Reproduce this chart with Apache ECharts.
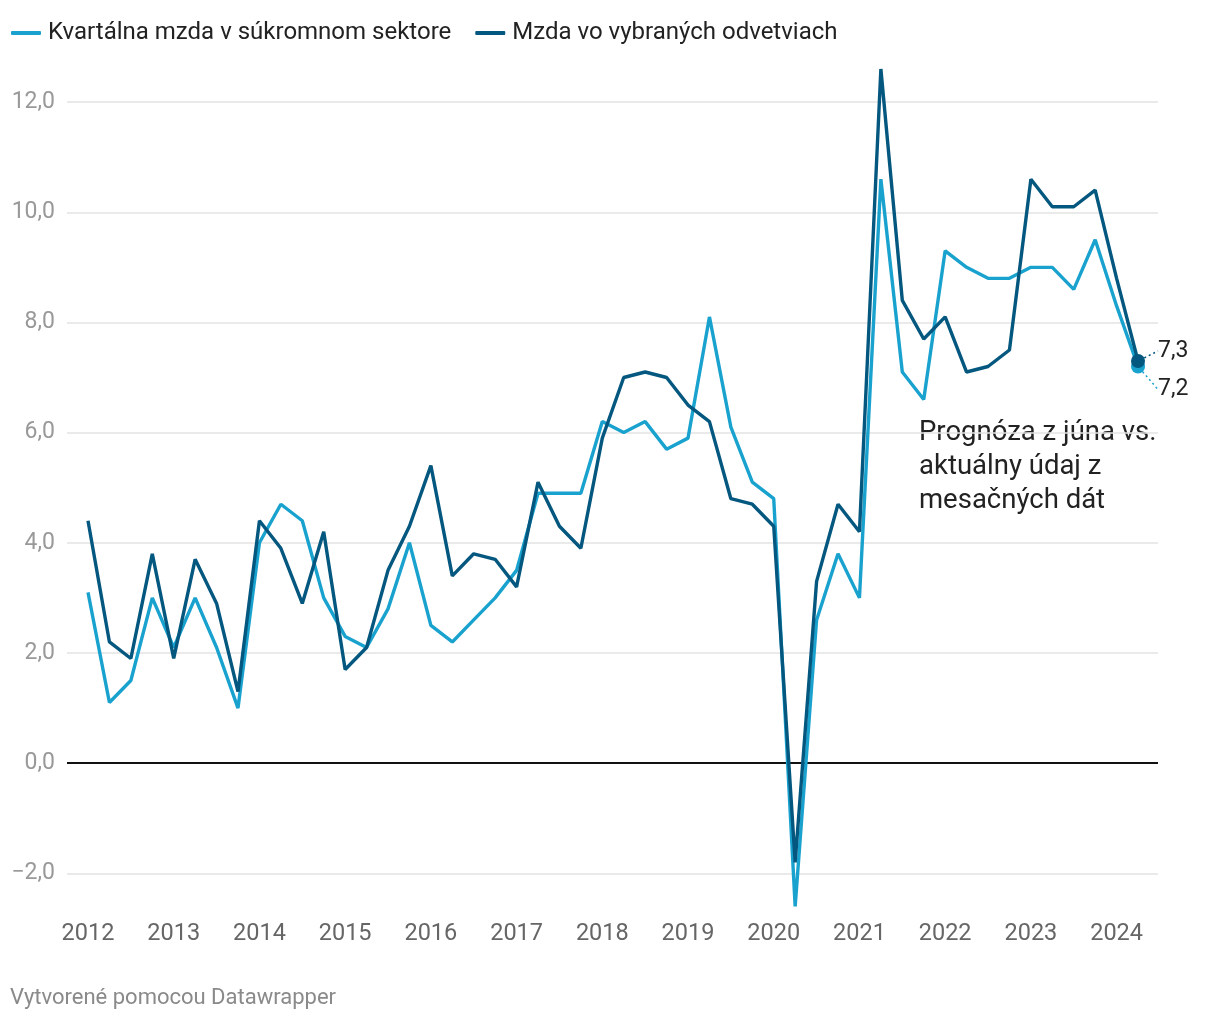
<!DOCTYPE html>
<html>
<head>
<meta charset="utf-8">
<script src="https://cdn.jsdelivr.net/npm/echarts@6/dist/echarts.min.js"></script>
<style>
  html, body { margin: 0; padding: 0; background: #fff; }
  #chart { width: 1220px; height: 1022px; }
</style>
</head>
<body>
<div id="chart"></div>
<script>
// Quarters 2012Q1 .. 2024Q2
const quarters = [
  '2012Q1','2012Q2','2012Q3','2012Q4',
  '2013Q1','2013Q2','2013Q3','2013Q4',
  '2014Q1','2014Q2','2014Q3','2014Q4',
  '2015Q1','2015Q2','2015Q3','2015Q4',
  '2016Q1','2016Q2','2016Q3','2016Q4',
  '2017Q1','2017Q2','2017Q3','2017Q4',
  '2018Q1','2018Q2','2018Q3','2018Q4',
  '2019Q1','2019Q2','2019Q3','2019Q4',
  '2020Q1','2020Q2','2020Q3','2020Q4',
  '2021Q1','2021Q2','2021Q3','2021Q4',
  '2022Q1','2022Q2','2022Q3','2022Q4',
  '2023Q1','2023Q2','2023Q3','2023Q4',
  '2024Q1','2024Q2'
];

const seriesNames = ['Kvartálna mzda v súkromnom sektore', 'Mzda vo vybraných odvetviach'];

const privateWage = [
  3.1, 1.1, 1.5, 3.0,
  2.1, 3.0, 2.1, 1.0,
  4.0, 4.7, 4.4, 3.0,
  2.3, 2.1, 2.8, 4.0,
  2.5, 2.2, 2.6, 3.0,
  3.5, 4.9, 4.9, 4.9,
  6.2, 6.0, 6.2, 5.7,
  5.9, 8.1, 6.1, 5.1,
  4.8, -2.6, 2.6, 3.8,
  3.0, 10.6, 7.1, 6.6,
  9.3, 9.0, 8.8, 8.8,
  9.0, 9.0, 8.6, 9.5,
  8.3, 7.2
];

const sectorWage = [
  4.4, 2.2, 1.9, 3.8,
  1.9, 3.7, 2.9, 1.3,
  4.4, 3.9, 2.9, 4.2,
  1.7, 2.1, 3.5, 4.3,
  5.4, 3.4, 3.8, 3.7,
  3.2, 5.1, 4.3, 3.9,
  5.9, 7.0, 7.1, 7.0,
  6.5, 6.2, 4.8, 4.7,
  4.3, -1.8, 3.3, 4.7,
  4.2, 12.6, 8.4, 7.7,
  8.1, 7.1, 7.2, 7.5,
  10.6, 10.1, 10.1, 10.4,
  8.8, 7.3
];

const yTicks = [-2, 0, 2, 4, 6, 8, 10, 12];
const xTicks = [2012, 2013, 2014, 2015, 2016, 2017, 2018, 2019, 2020, 2021, 2022, 2023, 2024];

const annotation = 'Prognóza z júna vs.\naktuálny údaj z\nmesačných dát';
const footer = 'Vytvorené pomocou Datawrapper';

const colors = ['#1aa2cf', '#04577e'];
const FONT = 'Roboto, "Noto Sans", sans-serif';

function qToX(q) {
  const y = parseInt(q.slice(0, 4), 10);
  const n = parseInt(q.slice(5), 10);
  return y + (n - 1) / 4;
}
function fmt(v) {
  return v.toFixed(1).replace('.', ',').replace('-', '\u2212');
}

function buildData(values) {
  const last = values.length - 1;
  return values.map((v, i) => {
    if (i !== last) return [qToX(quarters[i]), v];
    return {
      value: [qToX(quarters[i]), v],
      symbol: 'circle',
      symbolSize: 14,
      label: {
        show: true,
        position: 'right',
        distance: 13,
        formatter: (p) => fmt(p.value[1]),
        color: '#222',
        fontSize: 23,
        fontFamily: FONT
      }
    };
  });
}

const chart = echarts.init(document.getElementById('chart'), null, { renderer: 'canvas' });

const gridLines = yTicks.filter(v => v !== 0).map(v => ({ yAxis: v }));

const option = {
  animation: false,
  backgroundColor: '#fff',
  color: colors,
  textStyle: { fontFamily: FONT },
  legend: {
    left: 6,
    top: 16,
    icon: 'roundRect',
    itemWidth: 30,
    itemHeight: 4,
    itemGap: 24,
    textStyle: { fontSize: 24, color: '#222', fontFamily: FONT, padding: [0, 0, 0, 2] },
    data: seriesNames
  },
  grid: { left: 67, right: 62, top: 58, height: 859.4 },
  xAxis: {
    type: 'value',
    min: 2011.755,
    max: 2024.483,
    axisLine: { show: false },
    axisTick: { show: false },
    splitLine: { show: false },
    axisLabel: {
      customValues: xTicks,
      formatter: (v) => String(Math.round(v)),
      color: '#666',
      fontSize: 23.5,
      fontFamily: FONT,
      margin: 5
    }
  },
  yAxis: {
    type: 'value',
    min: -2.8,
    max: 12.8,
    axisLine: { show: false },
    axisTick: { show: false },
    splitLine: { show: false },
    axisLabel: {
      customValues: yTicks,
      formatter: (v) => fmt(v),
      color: '#999',
      fontSize: 23,
      fontFamily: FONT,
      margin: 12
    }
  },
  series: [
    {
      name: seriesNames[0],
      type: 'line',
      data: buildData(privateWage),
      symbol: 'none',
      showAllSymbol: true,
      lineStyle: { width: 3.4, color: colors[0] },
      itemStyle: { color: colors[0] },
      z: 3,
      labelLayout: () => ({ dy: 23 }),
      labelLine: { show: true, lineStyle: { type: [2, 3], width: 1.5, color: colors[0] } },
      markLine: {
        silent: true,
        symbol: 'none',
        label: { show: false },
        z: 1,
        lineStyle: { color: '#e3e3e3', width: 1.5, type: 'solid' },
        data: gridLines
      }
    },
    {
      name: seriesNames[1],
      type: 'line',
      data: buildData(sectorWage),
      symbol: 'none',
      showAllSymbol: true,
      lineStyle: { width: 3.4, color: colors[1] },
      itemStyle: { color: colors[1] },
      z: 4,
      labelLayout: () => ({ dy: -10 }),
      labelLine: { show: true, lineStyle: { type: [2, 3], width: 1.5, color: colors[1] } },
      markLine: {
        silent: true,
        symbol: 'none',
        label: { show: false },
        z: 2,
        lineStyle: { color: '#111', width: 2, type: 'solid' },
        data: [{ yAxis: 0 }]
      }
    }
  ],
  graphic: [
    {
      type: 'text',
      left: 919,
      top: 416,
      style: {
        text: annotation,
        fontSize: 27.5,
        lineHeight: 34,
        fill: '#222',
        fontFamily: FONT
      }
    },
    {
      type: 'text',
      left: 10,
      top: 987,
      style: {
        text: footer,
        fontSize: 22,
        fill: '#8a8a8a',
        fontFamily: FONT
      }
    }
  ]
};

chart.setOption(option);
</script>
</body>
</html>
